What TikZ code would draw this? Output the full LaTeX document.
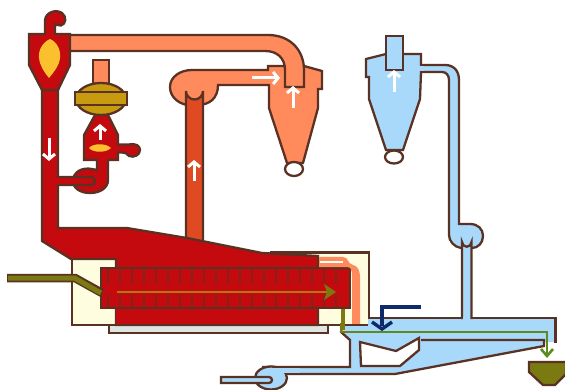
\documentclass[tikz,border=0pt]{standalone}
\usetikzlibrary{arrows.meta}
\definecolor{dk}{HTML}{5A3224}
\definecolor{rd}{HTML}{C4090F}
\definecolor{sal}{HTML}{FF8A5C}
\definecolor{ore}{HTML}{E04A22}
\definecolor{blu}{HTML}{A8D8FA}
\definecolor{crm}{HTML}{FFFDE0}
\definecolor{gry}{HTML}{DFE6E2}
\definecolor{oli}{HTML}{7A7A10}
\definecolor{mus}{HTML}{B07A10}
\definecolor{grn}{HTML}{5F8A20}
\definecolor{gold}{HTML}{C79A10}
\definecolor{yel}{HTML}{FBC02D}
\definecolor{nav}{HTML}{0F2A6B}
\tikzset{
  shp/.style={draw=dk,line width=2.3pt,line join=miter},
  edge/.style={draw=dk,line width=2.3pt},
  flow/.style={draw=white,line width=3pt,-{Straight Barb[length=5pt,width=12pt,line width=3pt]}},
  tick/.style={draw=dk!60!rd,line width=1.5pt}
}
\begin{document}
\begin{tikzpicture}[x=1pt,y=-1pt]
\useasboundingbox (0,0) rectangle (565,390);
\clip (0,0) rectangle (565,390);
\fill[white] (0,0) rectangle (565,390);
% salmon cyclone and hood
\path[shp,fill=sal] (268,66) -- (304,66) -- (322,71) -- (322,89) -- (318,89) -- (318,108) -- (303,163) -- (287,163) -- (269,108) -- (269,85) -- (218,85) .. controls (218,98) and (210,105) .. (197,105) -- (187,105) .. controls (177,103) and (170,96) .. (170,87) .. controls (170,77) and (180,70) .. (192,70) -- (268,70) -- cycle;
% salmon long duct
\path[shp,fill=sal] (68,35) -- (268,35) .. controls (290,35) and (304,50) .. (304,70) -- (304,87) -- (285,87) -- (285,70) .. controls (285,58) and (277,51) .. (265,51) -- (68,51) -- cycle;
\draw[shp,fill=white] (294,169) ellipse (9 and 7);
% orange pipe
\path[shp,fill=ore] (186,245) -- (186,91) arc[start angle=180,end angle=0,radius=8.5] -- (203,245) -- cycle;
% cream box and base
\path[shp,fill=gry] (109,322) -- (109,333) -- (328,333) -- (328,322);
\path[shp,fill=crm] (72,259) rectangle (369,325);
\fill[crm] (260,253) rectangle (368,262);
\draw[edge] (270,252.5) -- (369,252.5) -- (369,325);
% main red body
\path[shp,fill=rd] (42,90) -- (42,241) -- (71,259) -- (116,259) -- (116,325) -- (318,325) -- (318,256) -- (262,253) -- (187,238) -- (127,228) -- (58,228) -- (58,90) -- cycle;
% drum
\path[shp,fill=rd] (101,268) rectangle (350,308);
\fill[rd] (116,309.2) rectangle (316.8,323.8);
\foreach \x in {108,120,...,344} {
  \draw[tick] (\x,269) -- (\x,282);
  \draw[tick] (\x,296) -- (\x,307);
  \draw[tick,line width=1pt] (\x-2.5,282.5) -- (\x+2.5,282.5);
  \draw[tick,line width=1pt] (\x-2.5,295.5) -- (\x+2.5,295.5);
}
% salmon return in cream
\path[fill=sal] (319,257) -- (343,257) .. controls (349,257) and (347,264) .. (353,265) .. controls (358,266) and (360,271) .. (360,277) -- (360,324) -- (352,324) -- (352,276) .. controls (352,270) and (351,267) .. (347,267) -- (319,267) -- cycle;
\fill[white] (320,261) rectangle (343,263);
\draw[edge] (369,252.5) -- (369,325) -- (318,325);
% blue ducting
\path[fill=blu] (342,326) -- (368,326) -- (368,318) -- (556,318) -- (556,342) -- (544,342) -- (544,346) -- (395,374) -- (285,374) -- (285,367) -- (350,367) -- (350,340) -- (341,332) -- cycle;
\draw[edge] (368,318) -- (463,318);
\draw[edge] (471,318) -- (555.5,318) -- (555.5,343);
\draw[edge] (421,340) -- (544,340) -- (544,346) -- (395,374) -- (285,374);
\draw[edge] (262,367) -- (350,367) -- (350,340) -- (341,332) -- (342,325);
\path[shp,fill=white] (360,342) -- (396,351) -- (419,338) -- (419,350) -- (400,366) -- (361,366) -- cycle;
% fan at bottom
\draw[shp,fill=blu] (271,378) ellipse (16 and 11.5);
\fill[blu] (268,368.3) rectangle (300,372.8);
\path[shp,fill=blu] (221,377) -- (269,377) arc[start angle=-90,end angle=90,radius=3] -- (221,383) -- cycle;
% blue pipe upper and cyclone
\path[shp,fill=blu] (418,65) -- (445,65) .. controls (454,65) and (459,71) .. (459,80) -- (459,224) -- (470,224) .. controls (478,224) and (483,229) .. (483,236) .. controls (483,243) and (478,248) .. (472,248) -- (461,248) .. controls (454,247) and (449,241) .. (449,235) -- (449,80) .. controls (449,75) and (446,72) .. (442,72) -- (418,72) -- cycle;
\path[shp,fill=blu] (366,59) -- (386,54) -- (421,54) -- (421,72) -- (420,99) -- (403,150) -- (386,150) -- (369,99) -- (369,77) -- (366,77) -- cycle;
\fill[blu] (418,66.3) rectangle (424,70.7);
\path[shp,fill=blu] (386,36) rectangle (403,70);
\draw[shp,fill=white] (394,157) ellipse (9 and 6.5);
\path[shp,fill=blu] (462,319) -- (462,242) arc[start angle=180,end angle=0,radius=4.75] -- (471.5,319);
\fill[blu] (463.2,317) rectangle (470.3,320);
% arrows and product lines
\draw[nav,line width=3.2pt,line join=miter] (421,307) -- (382,307) -- (382,326);
\draw[nav,line width=3.4pt] (372,322) -- (382,329) -- (392,322);
\draw[grn,line width=2.4pt] (345,332) -- (547,332) -- (547,354);
\draw[grn,line width=2.6pt] (541,349) -- (547,356) -- (553,349);
\draw[oli,line width=4.5pt] (343,309) -- (343,330);
\draw[oli,line width=2.8pt] (341,323) -- (341,332) -- (349,332);
\path[shp,fill=oli] (529,362) -- (566,362) -- (566,374) -- (555,385) -- (543,385) -- (529,372) -- cycle;
% feed and inner line
\draw[dk,line width=8.5pt] (7,278) -- (75,278) -- (102,293);
\draw[oli,line width=5pt] (8,278) -- (74.5,278) -- (101,293);
\draw[mus,line width=2.6pt] (117,292) -- (328,292);
\fill[oli] (324,284) -- (336,292) -- (324,300) -- (327,292) -- cycle;
% left cyclone
\path[shp,fill=rd] (45,36) -- (45,20) .. controls (46,12) and (56,9) .. (62,13) .. controls (67,17) and (66,24) .. (61,25.5) .. controls (58,26) and (55,24) .. (55,24) -- (55,36);
\path[shp,fill=rd] (29,34) -- (70,34) -- (70,65) -- (58,90) -- (42,90) -- (29,65) -- cycle;
\fill[rd] (46.2,30) rectangle (53.8,36);
\fill[yel] (50,39) .. controls (57,42) and (61,50) .. (60,58) .. controls (59,66) and (54,72) .. (49,78) .. controls (44,72) and (40,66) .. (39,58) .. controls (38,50) and (43,42) .. (50,39) -- cycle;
% burner, fan
\path[shp,fill=rd] (73,181) .. controls (73,172) and (82,167) .. (92,169) -- (97,170) -- (97,158) -- (108,158) -- (108,180) .. controls (108,188) and (100,193) .. (90,193) .. controls (80,193) and (73,188) .. (73,181) -- cycle;
\path[shp,fill=rd] (57.5,177) -- (91,177) arc[start angle=-90,end angle=90,radius=4] -- (57.5,185);
\fill[rd] (54,178.2) rectangle (60,183.8);
\path[shp,fill=rd] (118,144.5) -- (129,144.5) .. controls (136,143) and (140,146) .. (140,150) .. controls (140,155) and (134,158) .. (129,156) .. controls (127,153) and (126,152.5) .. (118,152.5) -- cycle;
\path[shp,fill=rd] (95,115) -- (108,115) -- (118,135) -- (118,160) -- (84,160) -- (84,135) -- cycle;
\fill[rd] (116,145.8) rectangle (120,151.2);
\fill[rd] (98.2,158) rectangle (106.8,162);
\fill[yel] (89,148) .. controls (93,143) and (106,143) .. (111,148) .. controls (106,153) and (93,153) .. (89,148) -- cycle;
\path[shp,fill=sal] (93,60) rectangle (109,86);
\draw[shp,fill=gold] (101,99) ellipse (25 and 16);
\path[shp,fill=gold] (75,92) rectangle (127,105);
% white flow arrows
\draw[flow] (252,78) -- (280,78);
\draw[flow] (293,108) -- (293,86);
\draw[flow] (394,92) -- (394,70);
\draw[flow] (194,181) -- (194,160);
\draw[flow] (49,138) -- (49,161);
\draw[flow] (100,140) -- (100,124);
\end{tikzpicture}
\end{document}
